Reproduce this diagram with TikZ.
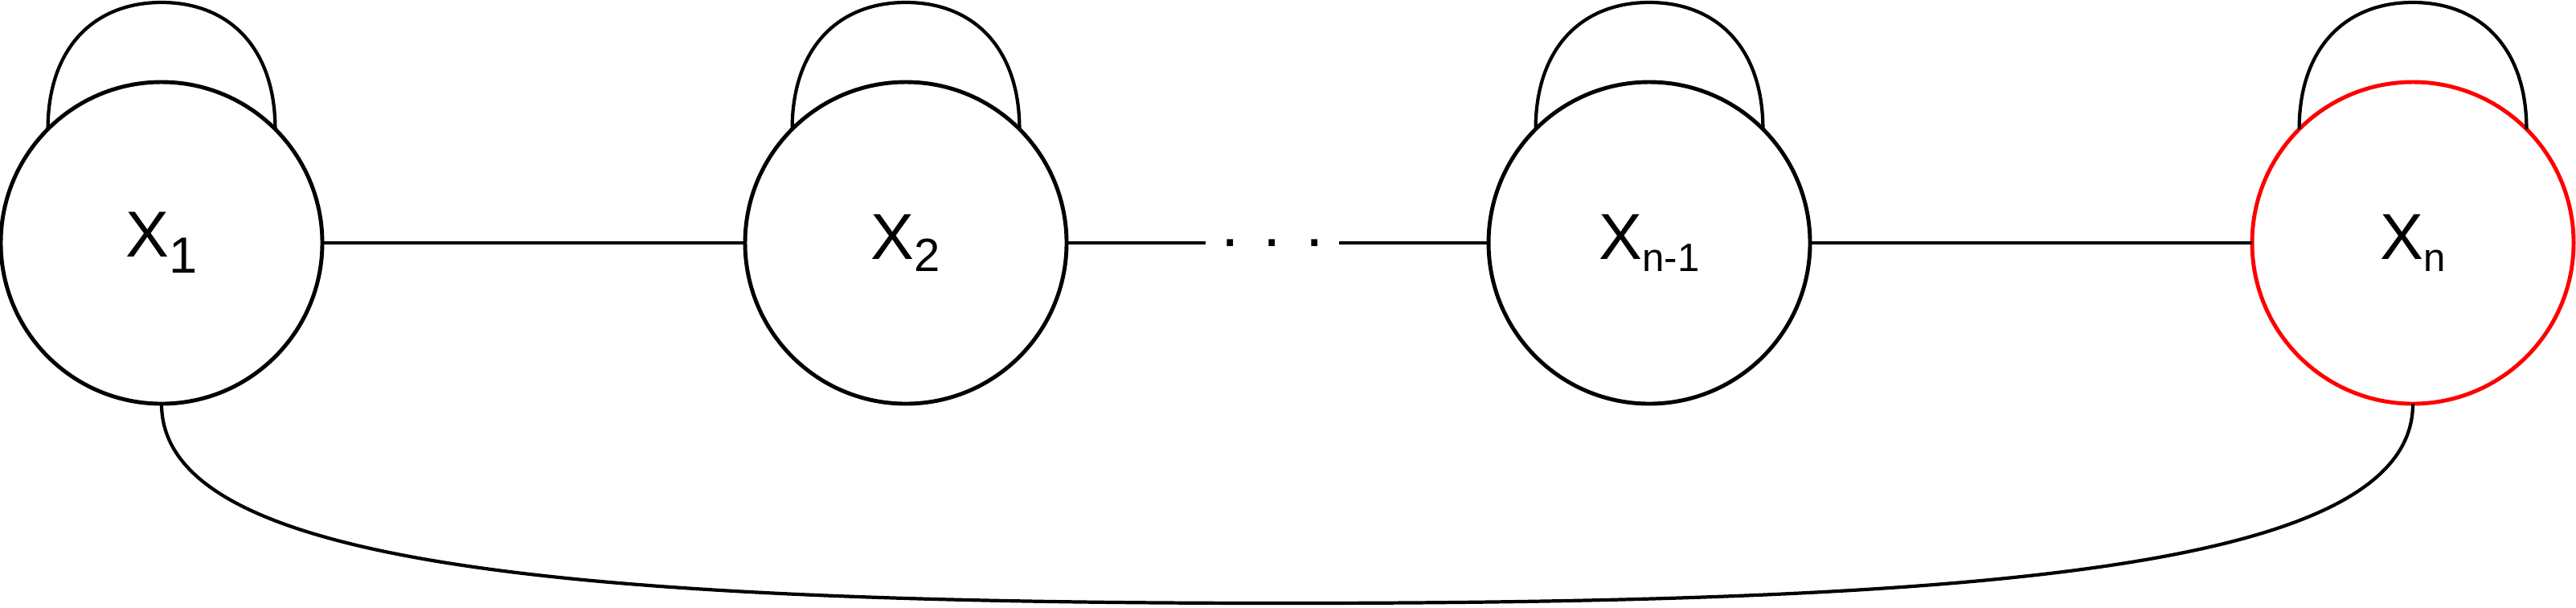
\documentclass[tikz,border=0pt]{standalone}
\usepackage{fontspec}
\setmainfont{Liberation Sans}
\newcommand{\xsub}[3]{X\raisebox{-#3}{\fontsize{#2}{#2}\selectfont #1}}

\begin{document}
\begin{tikzpicture}[
    statenode/.style={
        circle, draw, line width=1.4pt, minimum size=4cm,
        inner sep=0pt, outer sep=0pt, fill=white
    },
    link/.style={line width=1.2pt},
    selfloop/.style={line width=1.2pt},
    dotsbox/.style={fill=white, inner sep=5.5pt},
    every node/.style={font=\fontsize{23}{23}\selectfont}
]
\useasboundingbox (0,0) rectangle (32.05,-7.55);

% ==================== STATES ====================
\node[statenode] (x1) at (2.01,-3.02) {\xsub{1}{18}{0.2cm}};
\node[statenode] (x2) at (11.27,-3.02) {\xsub{2}{16.5}{0.15cm}};
\node[statenode] (xn1) at (20.52,-3.02) {\xsub{n-1}{14}{0.15cm}};
\node[statenode, draw=red] (xn) at (30.02,-3.02) {\xsub{n}{14}{0.15cm}};

% ==================== LINKS ====================
\draw[link] (x1) -- (x2);
\draw[link] (x2) -- node[dotsbox, pos=0.488] {. . .} (xn1);
\draw[link] (xn1) -- (xn);

% self loops
\foreach \s in {x1, x2, xn1, xn}
    \draw[selfloop] (\s.135) .. controls +(0,1.0) and +(-0.85,0) .. ([yshift=0.99cm]\s.north)
        .. controls +(0.85,0) and +(0,1.0) .. (\s.45);

% long link from first to last state
\coordinate (bot) at (16.0,-7.5);
\draw[link] (x1.south) .. controls +(0,-2.0) and +(-9,0) .. (bot)
    .. controls +(9,0) and +(0,-2.0) .. (xn.south);

\end{tikzpicture}
\end{document}
